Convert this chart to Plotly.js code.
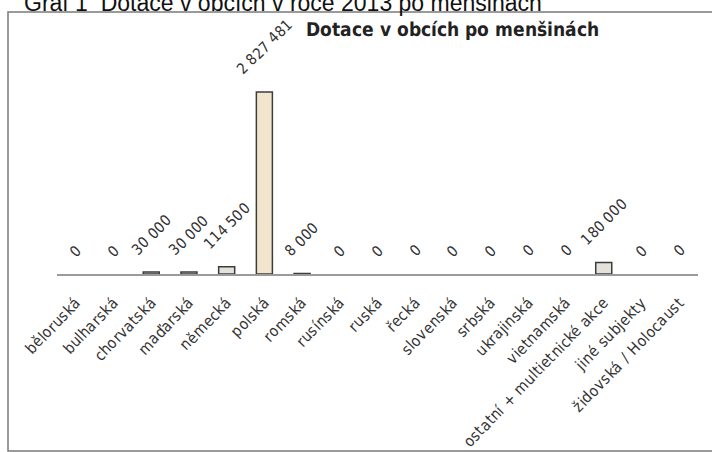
<!DOCTYPE html>
<html>
<head>
<meta charset="utf-8">
<script src="https://cdn.plot.ly/plotly-3.0.1.min.js"></script>
<style>
html,body{margin:0;padding:0;background:#fff}#chart{width:712px;height:452px}
@font-face{font-family:"NarrowX";src:local("Liberation Sans Narrow"),local("LiberationSansNarrow-Regular"),local("DejaVu Sans Condensed"),local("DejaVuSansCondensed");font-weight:400;}
@font-face{font-family:"NarrowX";src:local("Liberation Sans Narrow Bold"),local("LiberationSansNarrow-Bold"),local("DejaVu Sans Condensed Bold"),local("DejaVuSansCondensed-Bold");font-weight:700;}
</style>
</head>
<body>
<div id="chart"></div>
<script>
const categories = ["běloruská","bulharská","chorvatská","maďarská","německá","polská","romská","rusínská","ruská","řecká","slovenská","srbská","ukrajinská","vietnamská","ostatní + multietnické akce","jiné subjekty","židovská / Holocaust"];
const values = [0,0,30000,30000,114500,2827481,8000,0,0,0,0,0,0,0,180000,0,0];
const outerTitle = "Graf 1  Dotace v obcích v roce 2013 po menšinách";
const chartTitle = "Dotace v obcích po menšinách";

const W = 712, H = 452;
const py = p => 1 - p / H;
const fmt = v => String(v).replace(/\B(?=(\d{3})+(?!\d))/g, " ");
const narrow = "NarrowX, Liberation Sans, sans-serif";

const barColors = values.map(v => v > 1000000 ? "#f1e5cd" : "#e4e1da");
const barLines = values.map(v => v > 0 ? 1.5 : 0);

const trace = {
  type: "bar",
  x: categories,
  y: values,
  marker: {color: barColors, line: {color: "#3c3c3c", width: barLines}},
  hoverinfo: "skip"
};

const labels = categories.map((c, i) => ({
  x: c, y: values[i], xref: "x", yref: "y",
  text: fmt(values[i]), showarrow: false,
  textangle: -45, xanchor: "center", yanchor: "bottom", yshift: 11,
  font: {family: narrow, size: 15, color: "#333"}
}));

labels.push({
  xref: "paper", yref: "paper", x: 452 / W, y: py(29),
  xanchor: "center", yanchor: "middle", showarrow: false,
  text: chartTitle, font: {family: narrow, size: 19, color: "#222", weight: 700}
});
labels.push({
  xref: "paper", yref: "paper", x: 22 / W, y: py(18),
  xanchor: "left", yanchor: "bottom", showarrow: false,
  text: outerTitle, font: {family: "Liberation Sans, Arial, sans-serif", size: 23, color: "#111"}
});

const layout = {
  width: W, height: H,
  margin: {l: 0, r: 0, t: 0, b: 0},
  paper_bgcolor: "#fff", plot_bgcolor: "rgba(0,0,0,0)",
  showlegend: false,
  bargap: 0.575,
  xaxis: {
    type: "category", domain: [57 / W, 698 / W],
    showline: true, linecolor: "#9a9a9a", linewidth: 1.5,
    ticks: "", showgrid: false, zeroline: false,
    tickangle: -46, ticklabelstandoff: 12,
    tickfont: {family: narrow, size: 15.5, color: "#333"}
  },
  yaxis: {
    visible: false, range: [0, 3500000],
    domain: [py(274), py(48.7)], fixedrange: true
  },
  annotations: labels,
  shapes: [{
    type: "rect", xref: "paper", yref: "paper",
    x0: 8 / W, x1: 1.05, y0: py(451), y1: py(12),
    line: {color: "#7a7a7a", width: 1.5}, fillcolor: "rgba(0,0,0,0)", layer: "below"
  }]
};

Plotly.newPlot("chart", [trace], layout, {displayModeBar: false, staticPlot: true});
</script>
</body>
</html>
